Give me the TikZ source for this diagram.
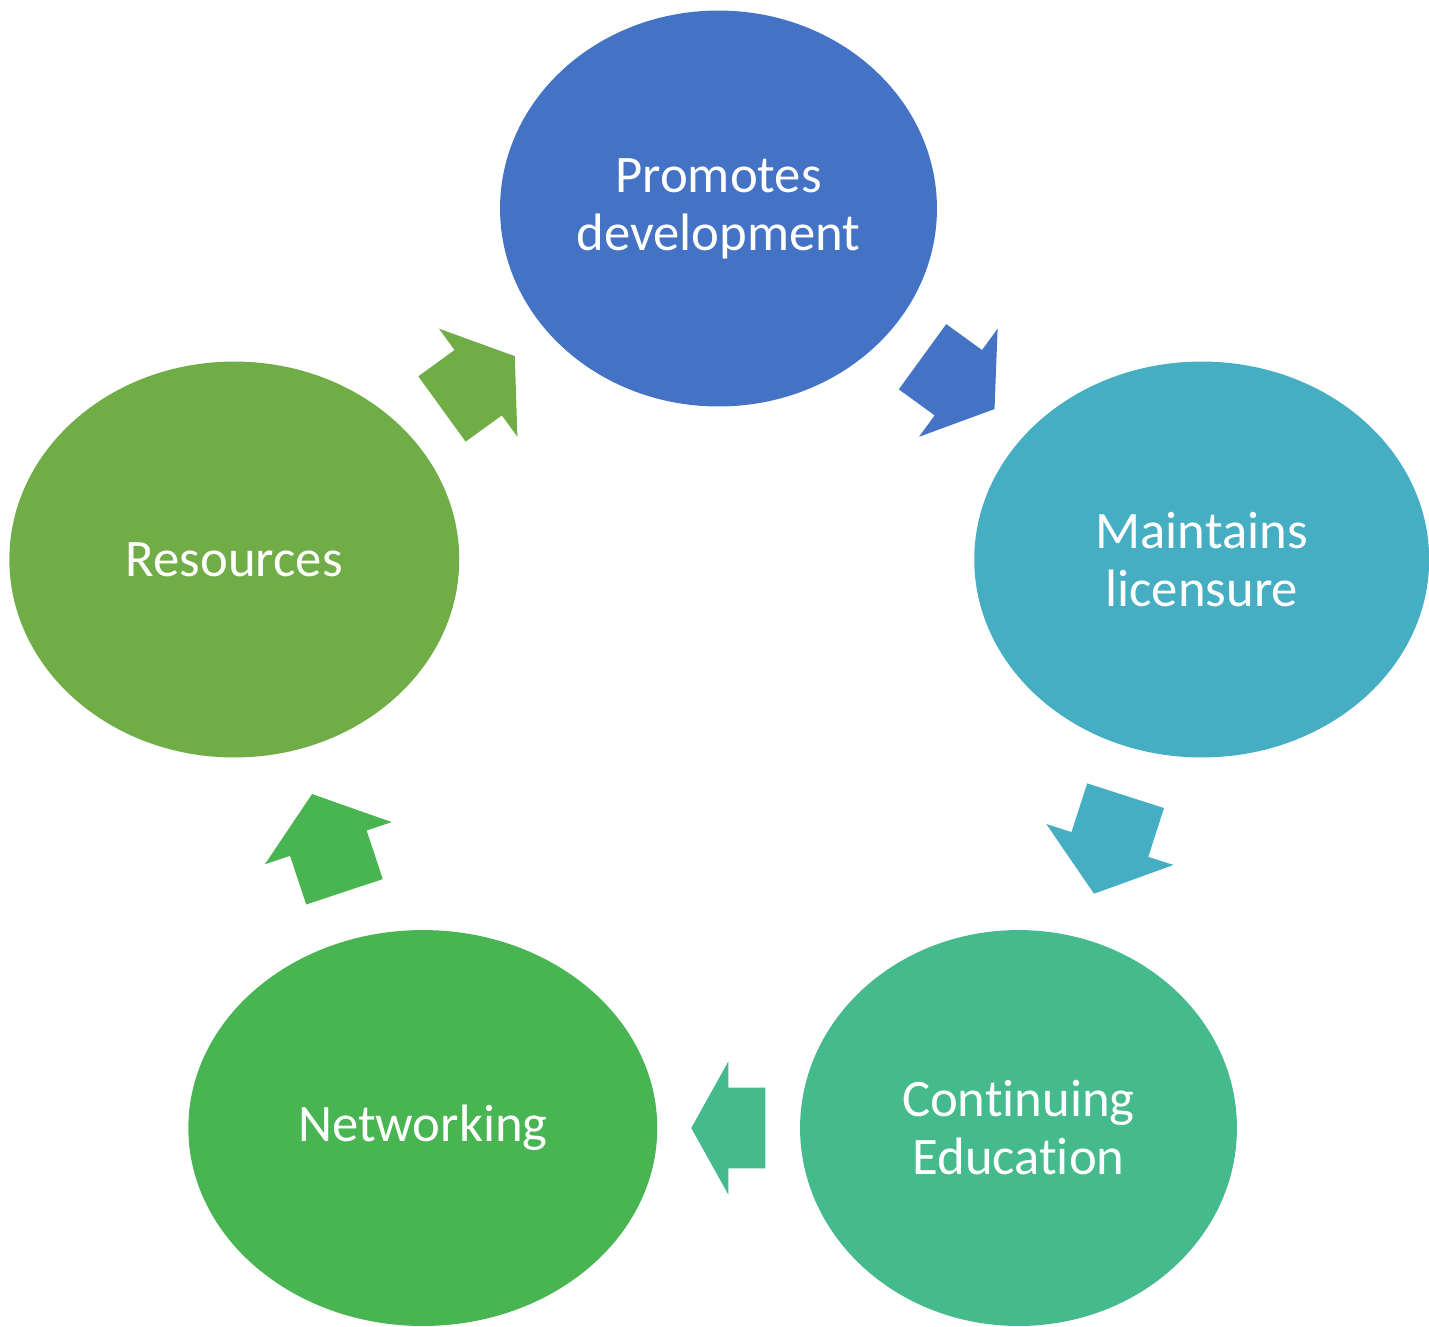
\documentclass[tikz,border=0pt]{standalone}
\usepackage{fontspec}
\setmainfont{Carlito}[Ligatures=NoCommon]
\definecolor{d00}{HTML}{4472C4}
\definecolor{d01}{HTML}{45AEC2}
\definecolor{d02}{HTML}{45BA8C}
\definecolor{d03}{HTML}{48B452}
\definecolor{d04}{HTML}{70AD47}
\usetikzlibrary{shapes.geometric, shapes.arrows}
\tikzstyle{elpz} = [draw=none, ellipse, inner sep=0pt,
    minimum height=7.92cm, text=white, text centered, align=center,
    font=\fontsize{30}{33}\selectfont]
\tikzstyle{blk} = [draw=none, single arrow, inner xsep=0pt, inner ysep=.8cm,
    minimum width=2.66cm, single arrow head extend=.53cm,
    sloped, allow upside down, pos=.24, anchor=tail]
\begin{document}
\begin{tikzpicture}[x=.02cm, y=-.02cm]
     % ><>< =================== ><>< %
     % ><><     Place nodes     ><>< %
     % ><>< =================== ><>< %
     \useasboundingbox (0,0) rectangle (1429,1326);
     \node [elpz, fill=d00, minimum width=8.74cm] (item00) at (718.5,208.5)
        {Promotes\\development};
     \node [elpz, fill=d01, minimum width=9.10cm] (item01) at (1201.7,559.5)
        {Maintains\\licensure};
     \node [elpz, fill=d02, minimum width=8.74cm] (item02) at (1018.5,1128)
        {Continuing\\Education};
     \node [elpz, fill=d03, minimum width=9.38cm] (item03) at (422.8,1128)
        {Networking};
     \node [elpz, fill=d04, minimum width=9.00cm] (item04) at (234.3,559.5)
        {Resources};
     % ><>< =================== ><>< %
     % ><><     Draw arrows     ><>< %
     % ><>< =================== ><>< %
     \path (item00) -- node [blk, fill=d00, minimum height=1.78cm,
        single arrow tip angle=112.4] (arw00) {} (item01);
     \path (item01) -- node [blk, fill=d01, minimum height=2.06cm,
        single arrow tip angle=104.5] (arw01) {} (item02);
     \path (item02) -- node [blk, fill=d02, minimum height=1.48cm,
        single arrow tip angle=121.8] (arw02) {} (item03);
     \path (item03) -- node [blk, fill=d03, minimum height=2.06cm,
        single arrow tip angle=104.5] (arw03) {} (item04);
     \path (item04) -- node [blk, fill=d04, minimum height=1.80cm,
        single arrow tip angle=111.8] (arw04) {} (item00);
  \end{tikzpicture}
\end{document}
